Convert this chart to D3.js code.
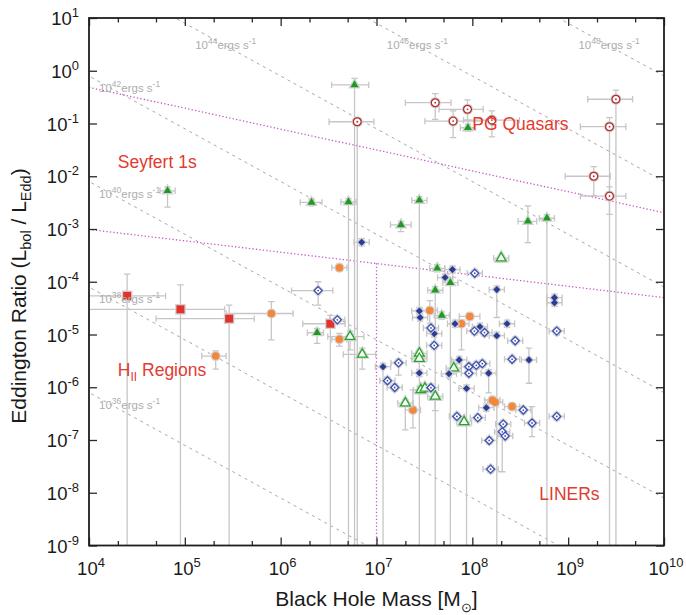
<!DOCTYPE html>
<html>
<head>
<meta charset="utf-8">
<script src="https://cdn.jsdelivr.net/npm/d3@7"></script>
<style>
  body { margin: 0; background: #fff; }
  svg { font-family: "Liberation Sans", Arial, Helvetica, sans-serif; }
</style>
</head>
<body>
<svg id="chart" width="686" height="615"></svg>
<script>
// Eddington ratio vs black hole mass

var LEDD = 1.26e38   // erg/s per solar mass
var lumExponents = [36, 38, 40, 42, 44, 46, 48]
var xTickExp = [4, 5, 6, 7, 8, 9, 10]
var yTickExp = [-9, -8, -7, -6, -5, -4, -3, -2, -1, 0, 1]
var massErr = 1.2     // default mass error factor (~0.08 dex)
var ratioErr = 1.17   // default ratio error factor (~0.07 dex)

// dividing lines between classes
var divideUpper = [[1e4, 0.485], [1e10, 2.04e-3]]
var divideLower = [[1e4, 9.8e-4], [1e10, 5.0e-5]]
var divideVertical = [[1e7, 2.24e-4], [1e7, 1e-10]]

// rl: 0 means the lower error runs off the bottom of the plot
var hiiSquares = [
  {m: 2.5e4, r: 5.4e-5, ml: 5e3, mh: 6.3e4, rl: 0, rh: 1.4e-4},
  {m: 9.0e4, r: 3.0e-5, ml: 5e3, mh: 2.6e5, rl: 0, rh: 8.7e-5},
  {m: 2.9e5, r: 2.0e-5, ml: 5.0e4, mh: 5.3e5, rl: 0, rh: 3.6e-5},
  {m: 3.3e6, r: 1.6e-5, ml: 1.7e6, mh: 4.7e6, rl: 0, rh: 2.3e-5},
]

var orangeCircles = [
  {m: 2.1e5, r: 3.9e-6, ml: 1.5e5, mh: 2.7e5, rl: 2.2e-6, rh: 4.9e-6},
  {m: 8.0e5, r: 2.5e-5, ml: 2.7e5, mh: 1.35e6, rl: 7.9e-6, rh: 4.2e-5},
  {m: 4.1e6, r: 1.85e-4},
  {m: 4.1e6, r: 8.1e-6, rl: 6.0e-6, rh: 1.05e-5},
  {m: 3.6e7, r: 2.85e-5, rl: 1.65e-5, rh: 4.4e-5},
  {m: 9.4e7, r: 2.2e-5, ml: 7.3e7, mh: 1.2e8},
  {m: 7.7e7, r: 1.6e-5, rl: 5.1e-6, rh: 1.9e-5},
  {m: 2.4e7, r: 3.7e-7, rl: 1.7e-7, rh: 8.9e-7},
  {m: 1.62e8, r: 5.7e-7},
  {m: 1.73e8, r: 5.2e-7},
  {m: 2.6e8, r: 4.3e-7},
]

var greenFilled = [
  {m: 6.6e4, r: 5.3e-3, rl: 2.6e-3, rh: 6.3e-3},
  {m: 2.1e6, r: 3.2e-3, ml: 1.6e6, mh: 2.7e6},
  {m: 5.1e6, r: 3.25e-3, rl: 0},
  {m: 5.9e6, r: 0.54, ml: 3.4e6, mh: 8.3e6, rl: 0, rh: 0.72},
  {m: 2.8e7, r: 3.5e-3, rl: 0},
  {m: 1.8e7, r: 1.2e-3, ml: 1.4e7, mh: 2.3e7, rl: 8.9e-4, rh: 1.4e-3},
  {m: 9.0e7, r: 0.083},
  {m: 3.8e8, r: 1.4e-3, ml: 3.0e8, mh: 4.7e8, rl: 5.5e-4, rh: 2.75e-3},
  {m: 6.0e8, r: 1.6e-3, rl: 0},
  {m: 2.4e6, r: 1.08e-5, ml: 1.9e6, mh: 2.8e6, rl: 6.8e-6, rh: 1.3e-5},
  {m: 4.3e7, r: 1.8e-4},
  {m: 5.9e7, r: 9.6e-5, rl: 0},
  {m: 4.1e7, r: 6.9e-5, rl: 0},
  {m: 4.8e7, r: 2.3e-5},
]

var greenOpen = [
  {m: 5.3e6, r: 9.1e-6, ml: 3.1e6, mh: 7.4e6, rl: 5.1e-6, rh: 1.16e-5},
  {m: 7.1e6, r: 4.2e-6, ml: 4.5e6, mh: 9.8e6, rl: 2.2e-6, rh: 5.5e-6},
  {m: 2.0e8, r: 2.8e-4},
  {m: 2.8e7, r: 4.4e-6},
  {m: 2.8e7, r: 3.5e-6},
  {m: 6.4e7, r: 2.3e-6},
  {m: 2.9e7, r: 8.9e-7},
  {m: 3.2e7, r: 9.5e-7},
  {m: 4.1e7, r: 6.7e-7, rl: 3.6e-7},
  {m: 2.0e7, r: 5.0e-7, rl: 1.55e-7},
  {m: 8.2e7, r: 2.2e-7},
]

var blueFilled = [
  {m: 7.0e6, r: 5.6e-4},
  {m: 6.2e7, r: 1.7e-4},
  {m: 5.2e7, r: 1.2e-4},
  {m: 1.8e8, r: 7.1e-5, rl: 2.1e-5},
  {m: 7.2e8, r: 5.0e-5},
  {m: 7.2e8, r: 4.0e-5},
  {m: 2.8e7, r: 2.8e-5},
  {m: 2.85e7, r: 2.1e-5},
  {m: 6.6e7, r: 1.6e-5},
  {m: 2.3e8, r: 1.6e-5},
  {m: 1.2e8, r: 1.4e-5},
  {m: 4.0e7, r: 1.04e-5},
  {m: 1.8e8, r: 9.5e-6, rl: 0},
  {m: 7.3e7, r: 3.3e-6},
  {m: 3.9e8, r: 3.3e-6, rl: 1.19e-6, rh: 5.5e-6},
  {m: 1.17e7, r: 2.45e-6, rl: 0},
  {m: 2.8e7, r: 1.86e-6},
  {m: 5.7e7, r: 1.8e-6},
  {m: 1.48e8, r: 1.85e-6, rl: 7.8e-7},
  {m: 8.7e7, r: 9.5e-7, rl: 0},
  {m: 1.4e8, r: 4.1e-7},
]

var blueOpen = [
  {m: 2.46e6, r: 6.8e-5, ml: 1.3e6, mh: 3.5e6, rl: 3.6e-5, rh: 1.0e-4},
  {m: 3.9e6, r: 1.9e-5},
  {m: 1.06e8, r: 1.45e-4},
  {m: 3.7e7, r: 1.33e-5},
  {m: 4.0e7, r: 6.2e-6},
  {m: 1.05e8, r: 1.16e-5},
  {m: 1.34e8, r: 1.09e-5},
  {m: 2.8e8, r: 7.6e-6},
  {m: 7.6e8, r: 1.16e-5},
  {m: 1.7e7, r: 2.9e-6, rl: 1.7e-6},
  {m: 1.3e7, r: 1.33e-6},
  {m: 1.55e7, r: 9.9e-7},
  {m: 3.7e7, r: 9.8e-7},
  {m: 9.2e7, r: 2.45e-6},
  {m: 9.2e7, r: 1.84e-6},
  {m: 1.1e8, r: 2.6e-6},
  {m: 1.27e8, r: 2.8e-6},
  {m: 2.6e8, r: 3.4e-6},
  {m: 6.9e7, r: 2.8e-7},
  {m: 1.14e8, r: 2.65e-7},
  {m: 2.1e8, r: 2.0e-7},
  {m: 2.05e8, r: 1.43e-7, rl: 2.5e-8},
  {m: 2.2e8, r: 1.19e-7},
  {m: 1.5e8, r: 9.8e-8},
  {m: 1.55e8, r: 2.8e-8},
  {m: 3.4e8, r: 3.7e-7},
  {m: 4.2e8, r: 2.1e-7, rl: 1.16e-7, rh: 4.3e-7},
  {m: 7.6e8, r: 2.8e-7},
]

var pgQuasars = [
  {m: 6.3e6, r: 0.108, ml: 3.2e6, mh: 9.4e6, rl: 0},
  {m: 4.1e7, r: 0.248, ml: 2.0e7, mh: 6.0e7, rl: 0.12, rh: 0.37},
  {m: 6.3e7, r: 0.111, ml: 3.2e7, mh: 1.25e8, rl: 0.054, rh: 0.173},
  {m: 8.9e7, r: 0.186, ml: 4.5e7, mh: 1.3e8, rl: 0.116, rh: 0.28},
  {m: 1.6e8, r: 0.116, ml: 8.1e7, mh: 3.1e8, rl: 0.056, rh: 0.173},
  {m: 3.15e9, r: 0.288, ml: 1.6e9, mh: 4.7e9, rl: 0, rh: 0.43},
  {m: 2.7e9, r: 0.087, ml: 1.34e9, mh: 4.0e9, rl: 0, rh: 0.129},
  {m: 1.85e9, r: 0.010, ml: 9.3e8, mh: 2.75e9, rl: 4.3e-3, rh: 0.0152},
  {m: 2.7e9, r: 4.2e-3, ml: 1.34e9, mh: 4.0e9, rl: 1.9e-3, rh: 6.3e-3},
]

var regionLabels = [
  {text: 'Seyfert 1s', m: 2.0e4, r: 1.43e-2},
  {text: 'PG Quasars', m: 1.0e8, r: 7.4e-2},
  {text: 'H', sub: 'II', after: ' Regions', m: 2.0e4, r: 1.63e-6},
  {text: 'LINERs', m: 5.0e8, r: 7.4e-9},
]

// ---------------------------------------------------------------
var svg = d3.select('#chart')
var box = {left: 89, right: 664, top: 18, bottom: 545.5}

var x = d3.scaleLog().domain([1e4, 1e10]).range([box.left, box.right])
var y = d3.scaleLog().domain([1e-9, 10]).range([box.bottom, box.top])

svg.append('clipPath').attr('id', 'clip')
  .append('rect').attr('x', box.left).attr('y', box.top)
  .attr('width', box.right - box.left).attr('height', box.bottom - box.top)

var plot = svg.append('g').attr('clip-path', 'url(#clip)')

// constant luminosity lines
var lumG = plot.append('g')
lumExponents.forEach(e => {
  var L = Math.pow(10, e)
  var pts = [1e3, 1e11].map(m => [x(m), y(L / (LEDD * m))])
  lumG.append('path')
    .attr('d', d3.line()(pts))
    .attr('stroke', '#a8a8a8').attr('stroke-width', 1)
    .attr('stroke-dasharray', '3,4').attr('fill', 'none')
})

// dividing lines
;[divideUpper, divideLower, divideVertical].forEach(seg => {
  plot.append('path')
    .attr('d', d3.line()(seg.map(d => [x(d[0]), y(d[1])])))
    .attr('stroke', '#c855c8').attr('stroke-width', 1.3)
    .attr('stroke-dasharray', '1.3,2.2').attr('fill', 'none')
})

// luminosity labels
var lumLabelG = svg.append('g').attr('fill', '#adadad').attr('font-size', 11.5)
lumExponents.forEach(e => {
  var L = Math.pow(10, e)
  var leftY = y(L / (LEDD * 1e4))
  var tx, ty
  if (leftY > box.top + 5) {
    tx = box.left + 10
    ty = leftY + 16
  } else {
    tx = x(L / (LEDD * Math.pow(10, 0.5))) - 28
    ty = 49
  }
  var t = lumLabelG.append('text').attr('x', tx).attr('y', ty)
  t.append('tspan').text('10')
  t.append('tspan').attr('dy', -5).attr('font-size', 8.5).text(e)
  t.append('tspan').attr('dy', 5).text('ergs s')
  t.append('tspan').attr('dy', -5).attr('font-size', 8.5).text('-1')
})

// error bars
var allSeries = [hiiSquares, orangeCircles, greenFilled, greenOpen, blueFilled, blueOpen, pgQuasars]
var errG = plot.append('g')
  .attr('stroke', '#c6c6c6').attr('stroke-width', 1.3).attr('fill', 'none')
var cap = 3.2
allSeries.forEach(series => series.forEach(d => {
  var cx = x(d.m), cy = y(d.r)
  var x0 = x(d.ml != null ? d.ml : d.m / massErr)
  var x1 = x(d.mh != null ? d.mh : d.m * massErr)
  var y1 = y(d.rh != null ? d.rh : d.r * ratioErr)
  var toBottom = d.rl === 0
  var y0 = toBottom ? box.bottom + 10 : y(d.rl != null ? d.rl : d.r / ratioErr)
  var p = `M${x0},${cy}H${x1}M${x0},${cy - cap}V${cy + cap}M${x1},${cy - cap}V${cy + cap}`
  p += `M${cx},${y0}V${y1}M${cx - cap},${y1}H${cx + cap}`
  if (!toBottom) p += `M${cx - cap},${y0}H${cx + cap}`
  errG.append('path').attr('d', p)
}))

// markers
var markG = plot.append('g')
function drawMarkers(data, type, size, fill, stroke, opts) {
  opts = opts || {}
  var sym = d3.symbol().type(type).size(size)
  var g = markG.append('g')
  var tr = d => `translate(${x(d.m)},${y(d.r)})` + (opts.rotate ? ' rotate(45)' : '')
  // grey halo
  g.selectAll('path.halo').data(data).join('path')
    .attr('class', 'halo')
    .attr('d', sym).attr('transform', tr)
    .attr('fill', 'none').attr('stroke', '#d2d2d2').attr('stroke-width', opts.open ? 3.4 : 2.6)
  g.selectAll('path.mk').data(data).join('path')
    .attr('class', 'mk')
    .attr('d', sym).attr('transform', tr)
    .attr('fill', fill).attr('stroke', stroke || 'none').attr('stroke-width', opts.open ? 1.3 : 0)
  if (opts.dot) {
    g.selectAll('circle').data(data).join('circle')
      .attr('cx', d => x(d.m)).attr('cy', d => y(d.r)).attr('r', 0.9)
      .attr('fill', stroke)
  }
}

drawMarkers(hiiSquares, d3.symbolSquare, 64, '#e3322b')
drawMarkers(orangeCircles, d3.symbolCircle, 44, '#f5873a')
drawMarkers(greenFilled, d3.symbolTriangle, 28, '#1b9b1f')
drawMarkers(greenOpen, d3.symbolTriangle, 40, '#ffffff', '#25a62a', {open: true})
drawMarkers(blueFilled, d3.symbolSquare, 25, '#2a3c98', null, {rotate: true})
drawMarkers(blueOpen, d3.symbolSquare, 32, '#ffffff', '#3d50b0', {rotate: true, open: true, dot: true})
drawMarkers(pgQuasars, d3.symbolCircle, 48, '#ffffff', '#b8292b', {open: true, dot: true})

// region labels
var regG = svg.append('g').attr('fill', '#e23b30').attr('font-size', 17.5)
regionLabels.forEach(d => {
  var t = regG.append('text').attr('x', x(d.m)).attr('y', y(d.r))
  t.append('tspan').text(d.text)
  if (d.sub) {
    t.append('tspan').attr('dy', 5).attr('font-size', 12).text(d.sub)
    t.append('tspan').attr('dy', -5).text(d.after)
  }
})

// axes
var xMajor = xTickExp.map(e => Math.pow(10, e))
var xMinor = []
xTickExp.slice(0, -1).forEach(e => [2, 5].forEach(k => xMinor.push(k * Math.pow(10, e))))
var yMajor = yTickExp.map(e => Math.pow(10, e))

function styleAxis(g) {
  g.select('.domain').remove()
  g.selectAll('line').attr('stroke', '#2a2a2a').attr('stroke-width', 1.3)
  g.selectAll('text').remove()
}

svg.append('g').attr('transform', `translate(0,${box.bottom})`)
  .call(d3.axisBottom(x).tickValues(xMajor).tickSize(-8)).call(styleAxis)
svg.append('g').attr('transform', `translate(0,${box.bottom})`)
  .call(d3.axisBottom(x).tickValues(xMinor).tickSize(-4.5)).call(styleAxis)
svg.append('g').attr('transform', `translate(0,${box.top})`)
  .call(d3.axisTop(x).tickValues(xMajor).tickSize(-8)).call(styleAxis)
svg.append('g').attr('transform', `translate(0,${box.top})`)
  .call(d3.axisTop(x).tickValues(xMinor).tickSize(-4.5)).call(styleAxis)
svg.append('g').attr('transform', `translate(${box.left},0)`)
  .call(d3.axisLeft(y).tickValues(yMajor).tickSize(-8)).call(styleAxis)
svg.append('g').attr('transform', `translate(${box.right},0)`)
  .call(d3.axisRight(y).tickValues(yMajor).tickSize(-8)).call(styleAxis)

// frame
svg.append('rect')
  .attr('x', box.left).attr('y', box.top)
  .attr('width', box.right - box.left).attr('height', box.bottom - box.top)
  .attr('fill', 'none').attr('stroke', '#1e1e1e').attr('stroke-width', 1.8)

// tick labels
var tickG = svg.append('g').attr('fill', '#1a1a1a').attr('font-size', 18.5)
xTickExp.forEach(e => {
  var t = tickG.append('text').attr('x', x(Math.pow(10, e)) + 2).attr('y', 575)
    .attr('text-anchor', 'middle')
  t.append('tspan').text('10')
  t.append('tspan').attr('dy', -8).attr('font-size', 13).text(e)
})
yTickExp.forEach(e => {
  var t = tickG.append('text').attr('x', 79).attr('y', y(Math.pow(10, e)) + 7)
    .attr('text-anchor', 'end')
  t.append('tspan').text('10')
  t.append('tspan').attr('dy', -8).attr('font-size', 13).text(e)
})

// axis titles
var xt = svg.append('text').attr('x', (box.left + box.right) / 2).attr('y', 606)
  .attr('text-anchor', 'middle').attr('font-size', 21).attr('fill', '#1a1a1a')
xt.append('tspan').text('Black Hole Mass [M')
xt.append('tspan').attr('dy', 6).attr('font-size', 13).text('\u2299')
xt.append('tspan').attr('dy', -6).text(']')

var yt = svg.append('text')
  .attr('transform', 'translate(26,296) rotate(-90)')
  .attr('text-anchor', 'middle').attr('font-size', 21).attr('fill', '#1a1a1a')
yt.append('tspan').text('Eddington Ratio (L')
yt.append('tspan').attr('dy', 5).attr('font-size', 14.5).text('bol')
yt.append('tspan').attr('dy', -5).text(' / L')
yt.append('tspan').attr('dy', 5).attr('font-size', 14.5).text('Edd')
yt.append('tspan').attr('dy', -5).text(')')
</script>
</body>
</html>
